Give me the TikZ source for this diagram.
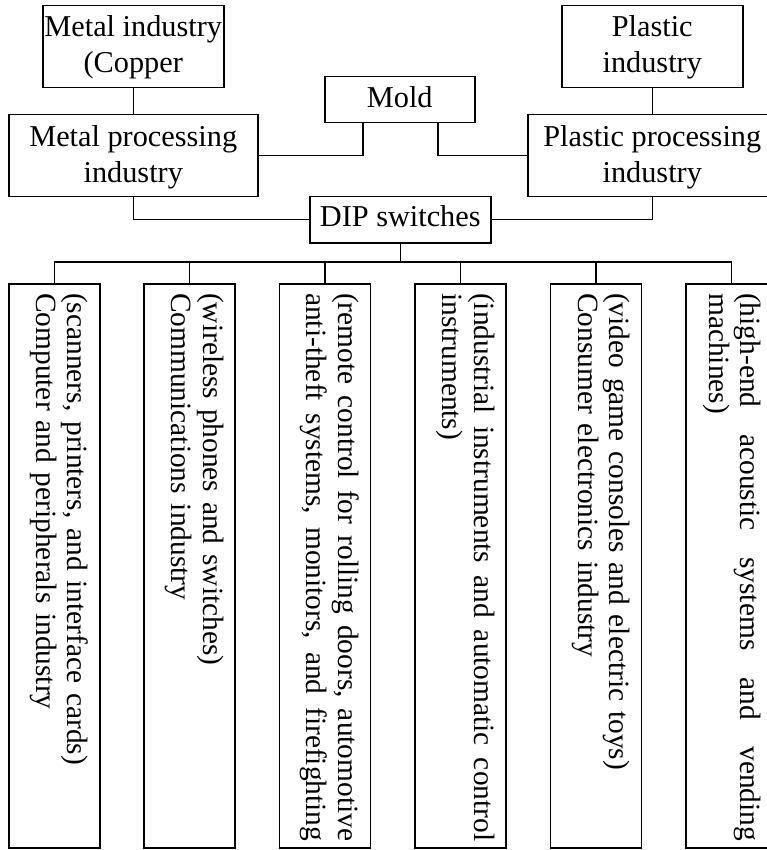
\documentclass[tikz,border=0pt]{standalone}
\usepackage{fontspec}
\setmainfont{Liberation Serif}
% a line spread over the full height of an application box
\newcommand{\fullline}[1]{\hbox to 548pt{#1}}
\newcommand{\gap}{\hspace{0pt plus 1fill}\ }
\begin{document}
\begin{tikzpicture}[x=1pt,y=-1pt,
  box/.style={draw, line width=1.5pt, rectangle, inner sep=0pt, anchor=north west},
  hlabel/.style={anchor=north, inner sep=0pt, align=center,
    font=\fontsize{30.3}{36}\selectfont},
  vlabel/.style={anchor=north west, rotate=-90, inner sep=0pt, text width=548pt,
    align=left, font=\fontsize{29.4}{31.5}\selectfont},
  link/.style={line width=1.5pt}]
\useasboundingbox (0,0) rectangle (767,850);
\clip (0,0) rectangle (767,850);

% supply chain boxes
\node[box, minimum width=181pt, minimum height=82pt] (mi) at (42,5) {};
\node[box, minimum width=181pt, minimum height=82pt] (pi) at (561,5) {};
\node[box, minimum width=150pt, minimum height=46pt] (mold) at (324,76) {};
\node[box, minimum width=249pt, minimum height=82pt] (mp) at (8,114) {};
\node[box, minimum width=249pt, minimum height=82pt] (pp) at (527,114) {};
\node[box, minimum width=181pt, minimum height=46pt] (dip) at (309,196) {};

\node[hlabel] (mit) at ([yshift=-10pt]mi.north) {Metal industry\\(Copper};
\node[hlabel] (pit) at ([yshift=-10pt]pi.north) {Plastic\\industry};
\node[hlabel] (moldt) at ([yshift=-10pt]mold.north) {Mold};
\node[hlabel] (mpt) at ([yshift=-11pt]mp.north) {Metal processing\\industry};
\node[hlabel] (ppt) at ([yshift=-11pt]pp.north) {Plastic processing\\industry};
\node[hlabel] (dipt) at ([yshift=-9pt]dip.north) {DIP switches};

% application boxes
\foreach \i/\x in {1/8, 2/143.4, 3/278.8, 4/414.2, 5/549.6, 6/685}
  \node[box, minimum width=91pt, minimum height=564pt] (c\i) at (\x,283) {};

\node[vlabel] (t1) at ([xshift=-12pt,yshift=-10pt]c1.north east)
  {(scanners, printers, and interface cards)\\Computer and peripherals industry};
\node[vlabel] (t2) at ([xshift=-12pt,yshift=-10pt]c2.north east)
  {(wireless phones and switches)\\Communications industry};
\node[vlabel] (t3) at ([xshift=-12pt,yshift=-10pt]c3.north east)
  {\fullline{(remote\gap control\gap for\gap rolling\gap doors,\gap automotive}\\
   \fullline{anti-theft\gap systems,\gap monitors,\gap and\gap firefighting}};
\node[vlabel] (t4) at ([xshift=-12pt,yshift=-10pt]c4.north east)
  {\fullline{(industrial\gap instruments\gap and\gap automatic\gap control}\\instruments)};
\node[vlabel] (t5) at ([xshift=-12pt,yshift=-10pt]c5.north east)
  {(video game consoles and electric toys)\\Consumer electronics industry};
\node[vlabel] (t6) at ([xshift=-16pt,yshift=-10pt]c6.north east)
  {\fullline{(high-end\gap acoustic\gap systems\gap and\gap vending}\\machines)};

% connectors
\draw[link] (mi.south) -- (mp.north);
\draw[link] (pi.south) -- (pp.north);
\draw[link] ([xshift=-37pt]mold.south) |- (mp.east);
\draw[link] ([xshift=38pt]mold.south) |- (pp.west);
\draw[link] (mp.south) |- (dip.west);
\draw[link] (pp.south) |- (dip.east);
\coordinate (busy) at (0,262);
\coordinate (bus) at (dip.south |- busy);
\draw[link] (dip.south) -- (bus);
\foreach \i in {1,...,6}
  \draw[link] (c\i.north) |- (bus);
\end{tikzpicture}
\end{document}
